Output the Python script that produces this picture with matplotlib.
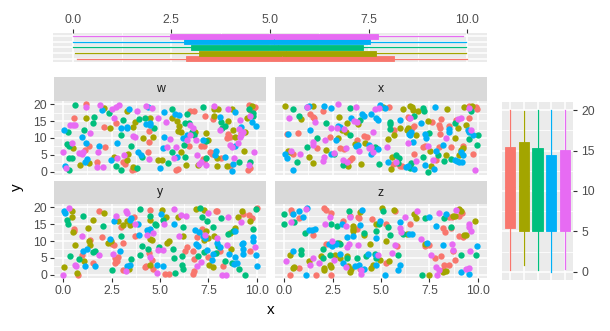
import matplotlib
matplotlib.use("Agg")
import matplotlib.pyplot as plt

plt.rcParams['font.family'] = ['Liberation Sans', 'DejaVu Sans']

# groups and their colours (ggplot hue palette)
groups = ["a", "b", "c", "d", "e"]
colors = {"a": "#F8766D", "b": "#A3A500", "c": "#00BF7D", "d": "#00B0F6", "e": "#E76BF3"}

facet_names = ["w", "x", "y", "z"]

# points: facet -> group -> [(x, y), ...]
facet_w = {
    "a": [(1.2,20),(6.55,18),(6.76,18),(9.6,19.8),(9.8,18.5),(9.9,19.3),(0.55,15.8),(2.7,14.4),(2.1,13.2),(1.12,6.4),(1.34,7.7),(1.72,2.8),(2.16,7.4),(3.1,2.8),(3.2,2.2),(3.53,0.5),(3.7,0.7),(4.4,5.9),(4.45,12.1),(4.45,8.9),(5.83,0.5),(5.95,0.7),(6.5,7.7),(7.1,7.7),(7.28,7.7),(7.2,3.8),(7.3,3.2),(7.6,5.9),(7.7,5.2),(8.53,11.1),(8.6,10.4),(8.45,9.9),(8.6,1.8),(9.57,0.5),(9.65,1.2),(7.76,5.4),(8.14,4.2),(7.33,16.6),(7.72,15.6),(9.17,11.4),(9.65,18.3),(9.74,18)],
    "b": [(2.1,18.8),(3.3,18),(7.8,18.5),(8.0,18.5),(8.7,18.5),(9.74,19.6),(1.17,16),(2.4,12.9),(3.6,13.2),(3.7,14.9),(4.5,16),(5.6,15.8),(5.9,15),(6.0,13.7),(5.95,12.1),(6.1,11.9),(0.52,6.9),(0.86,2),(1.34,2.5),(2.6,4.5),(3.36,5.1),(3.3,3.6),(4.1,9.9),(3.6,1.5),(4.65,10.4),(4.9,3.5),(5.1,3.5),(6.1,5.9),(6.35,2),(6.8,11.9),(7.38,11.4),(7.5,9.4),(6.98,2),(7.93,4.2),(7.96,1.8),(8.76,12.4),(8.9,10.4),(9.5,15.8),(9.34,6.1),(8.48,1.8),(7.8,16.6),(8.53,15.1),(9.4,11.9)],
    "c": [(0.6,19.7),(2.38,17.3),(5.6,18.5),(6.4,17),(7.2,19.3),(9.6,18.5),(1.6,16.3),(1.55,14.5),(3.0,10.9),(3.1,15.3),(3.9,15.5),(4.2,16),(4.7,12.9),(6.3,14.4),(6.5,14.4),(0.26,11.7),(1.09,12.4),(0.2,8.1),(0.3,7.7),(0.3,4),(0.43,4),(0.3,0.5),(2.72,1.8),(3.0,0.4),(3.5,7.7),(3.83,1),(4.05,4.5),(5.43,2.5),(5.6,5.9),(6.3,4.5),(6.24,7.9),(6.64,11.9),(6.76,10.9),(7.4,9.1),(7.4,4),(8.2,12.9),(8.36,13.7),(9.83,17.3),(9.1,2.8),(9.65,2.8),(8.14,14.9),(9.83,16.6)],
    "d": [(2.0,18.3),(3.4,18.5),(4.4,19.1),(5.2,17.6),(5.8,17),(6.0,16.8),(8.9,17.6),(3.0,12.9),(3.3,12.9),(3.3,13.4),(4.3,14.1),(4.5,14.4),(0.03,12.4),(0.95,10.2),(1.2,8.4),(1.24,3.8),(0.09,1.8),(1.1,3),(1.84,7.7),(2.45,3.5),(2.8,8.4),(3.85,5.9),(4.0,5),(4.5,13.9),(5.0,1),(5.14,6.9),(5.2,10.4),(5.86,4.5),(6.2,9.9),(6.4,10.9),(7.2,9.4),(7.84,5),(8.9,7.7),(9.74,14.9),(9.97,13.7),(8.76,2.2),(8.7,0.2),(8.36,4.5),(7.9,6.1),(8.1,16.3),(9.2,13.4)],
    "e": [(1.2,19.3),(1.9,19.8),(2.5,18.6),(2.7,19.3),(2.9,19.7),(3.8,18),(4.3,19.6),(4.6,18.8),(7.8,19.6),(8.5,18.5),(0.35,14),(0.5,13.9),(0.6,13.9),(2.6,16),(4.9,15.8),(5.3,14.9),(6.7,13.1),(1.38,11.4),(0.43,8.4),(0.0,5.7),(0.83,5.4),(0.95,5.2),(1.03,5.7),(0.14,1),(1.72,1.3),(2.03,1.3),(1.78,5.9),(2.76,4.2),(3.14,5),(3.7,10.4),(3.6,10.7),(4.45,3.8),(5.34,7.4),(5.5,9.7),(5.83,7.4),(5.7,4),(6.4,9.4),(6.55,10.9),(6.86,9.4),(6.9,5),(7.1,3),(7.0,2.2),(7.4,2),(8.1,12.4),(8.6,7.9),(8.7,7.4),(9.05,8.4),(9.14,10.4),(9.2,10.9),(9.14,15.3),(9.65,16.6),(9.86,5.9),(8.8,4.2),(9.6,2),(6.55,13.9),(9.1,12.7),(9.3,11.9)],
}

facet_x = {
    "a": [(2.0,18),(1.32,17),(1.46,16.3),(1.53,16),(2.35,10.4),(3.76,9.4),(4.1,10.7),(4.28,10.4),(0.12,11.1),(0.72,11.4),(1.7,7.1),(2.87,7.1),(3.08,6.7),(0.43,5.1),(3.42,3.5),(3.52,4),(5.65,12.4),(5.4,19.1),(6.39,16.3),(6.44,16),(7.65,14.9),(8.0,13.9),(8.1,15.6),(6.68,13.7),(6.6,12.9),(8.06,11.1),(8.88,15.3),(8.54,13.7),(9.54,19.6),(9.66,18.8),(9.9,19.3),(9.95,18.6),(9.57,15.8),(8.06,13.1),(9.23,7.7),(9.77,5.1),(7.99,7.4),(8.62,7.4),(7.17,7.4),(7.25,7.7),(7.85,3.5),(5.62,2.2),(5.76,2.5),(5.96,1.8),(6.1,1.8),(6.68,5.1)],
    "b": [(0.03,19.6),(0.89,15.5),(1.46,19.6),(2.84,16.3),(3.8,14.1),(3.25,14.4),(3.0,12.4),(3.18,11.7),(2.78,10.1),(2.15,6.4),(1.29,4.5),(0.2,6.1),(0.29,5.7),(1.5,2.5),(3.3,1.8),(3.99,2.2),(3.64,8.1),(4.16,8.4),(5.36,9.7),(5.65,10.9),(5.96,12.9),(5.1,19.3),(6.13,18.6),(6.48,19.6),(6.6,19.3),(6.65,18.3),(6.9,18),(8.4,18.6),(7.42,15),(6.39,12.9),(6.34,12.4),(6.82,10.9),(8.85,9.9),(8.97,12.9),(9.4,13.9),(9.7,19.6),(9.3,19.3),(9.14,6.4),(9.23,6.9),(9.05,5),(8.37,4.8),(7.51,6.1),(7.6,1.8),(5.58,4.5),(5.53,0.8),(6.48,1.8)],
    "c": [(0.43,18.6),(0.77,16.6),(2.18,14.4),(3.38,18.8),(3.9,15.3),(3.42,10.9),(1.7,9.9),(1.2,7.4),(2.58,5.1),(0.67,2.8),(3.04,2),(4.67,7.4),(4.76,7.1),(4.6,6.4),(4.9,2.2),(5.48,14.9),(5.48,14.1),(5.48,12.7),(7.17,18.8),(7.2,18),(6.68,16.6),(7.47,11.4),(8.8,14.4),(9.66,18),(9.54,9.7),(10.0,10.9),(9.95,7.9),(8.28,3.2),(8.62,3.8),(7.94,4.8),(7.17,4.5),(7.42,0),(5.79,5),(5.93,4),(5.88,2.5),(6.56,2.5),(6.5,1.2)],
    "d": [(1.2,19.2),(1.29,19.6),(2.04,19.6),(2.44,18.8),(1.32,12.4),(2.87,13.4),(2.8,13.7),(3.47,16),(4.0,17),(4.1,16.6),(2.66,9.4),(0.17,11.1),(2.44,5.1),(0.03,5.1),(0.15,4),(0.43,0.5),(3.7,7.7),(3.8,7.9),(4.4,7.9),(4.5,5.1),(4.85,6.7),(5.96,15.3),(4.97,19.8),(5.19,18.8),(4.72,15.8),(4.85,15.3),(4.5,17),(7.77,19.1),(7.08,14.4),(6.48,10.9),(6.56,11.7),(6.44,11.1),(7.25,11.1),(7.34,10.1),(6.65,8.7),(8.54,12.7),(8.5,11.9),(9.5,12.4),(9.57,11.7),(9.77,10.9),(9.14,5.7),(9.23,4.8),(8.8,3.5),(8.92,3.2),(9.05,2.8),(9.2,2.8),(8.2,7.9),(7.85,6.1),(7.25,2),(7.72,0.8),(5.36,2.8),(6.27,1.5),(6.39,1.8),(6.68,0.8)],
    "e": [(0.26,16),(1.15,19.3),(2.78,20),(1.58,14.7),(2.44,12.9),(2.7,13.1),(3.08,12.7),(3.7,19.3),(3.6,15),(3.76,14.9),(2.1,9.4),(1.5,8.9),(1.5,7.9),(2.56,5.4),(3.2,7.1),(0.33,6.1),(0.81,5.1),(1.98,3.2),(2.05,4.5),(3.04,3.5),(3.25,2.8),(3.87,6.1),(4.4,6.9),(4.6,5.9),(4.5,7.4),(5.3,7.4),(4.67,18.6),(4.9,18.8),(4.6,11.9),(6.5,16),(6.39,8.4),(8.37,9.9),(8.97,15.6),(9.14,15.8),(9.54,18.8),(9.66,12.4),(7.42,7.7),(7.68,3.5),(9.88,0.4),(5.79,2.8),(6.82,3.2)],
}

facet_y = {
    "a": [(0.55,13.7),(0.55,13.1),(0.78,0),(0.95,5.7),(1.38,10.4),(1.55,3.6),(1.86,18.8),(1.98,11.1),(2.5,9.1),(2.6,8.9),(2.67,4.8),(2.67,3.6),(3.0,14.1),(3.07,9.4),(2.84,5.1),(2.76,4),(3.07,1.3),(3.66,17),(3.7,11.4),(4.22,2.3),(4.3,2.6),(4.48,19.2),(4.45,6.4),(4.57,4.3),(4.66,1.6),(5.26,0.3),(5.48,0.3),(6.38,8.1),(6.29,6.9),(7.9,19),(7.97,18.8),(7.16,13.7),(6.72,6.9),(6.76,4.6),(6.69,0.3),(6.76,1),(7.5,5.1),(8.1,7.1),(8.28,2.6),(9.31,18),(9.62,17.8),(9.74,16.8),(10,19.8),(9.66,7.1),(6.9,11.1)],
    "b": [(0.43,19),(0.43,17),(0.48,12.7),(0.6,8.9),(0.03,2.3),(0.72,0.6),(1.07,4),(1.34,9.9),(1.4,8.9),(1.3,13.9),(1.52,16.2),(2.1,18.2),(2.33,9.4),(2.45,9.9),(2.84,16),(3.07,14.7),(3.41,1.6),(3.3,15.8),(3.45,14.7),(4.48,10.7),(4.57,10.4),(4.5,16.2),(4.5,3),(5.09,19.2),(5.31,17),(5.34,9.4),(5.48,9.9),(5.95,17),(6.21,11.4),(6.86,19.5),(7.28,19.2),(7.38,13.1),(7.5,10.9),(7.28,10.4),(7.76,2.3),(7.55,3),(7.79,11.4),(8.62,12.4),(9.05,17.2),(9.22,19),(8.66,7.7),(9.66,16),(8.88,14)],
    "c": [(0.21,16.2),(0.26,15),(0.34,5.4),(0.83,4.6),(1.03,17.5),(1.52,6.7),(1.64,7.1),(2.07,14.4),(3.0,11.4),(2.5,1.3),(3.52,4.6),(3.97,19.5),(4.05,8.4),(3.97,5.7),(4.48,17.5),(4.72,15),(4.8,14.7),(4.4,7.7),(4.97,8.1),(5.14,16.2),(5.69,7.7),(5.72,4.8),(5.78,0.6),(6.17,14.1),(6.12,5.4),(6.12,2.8),(6.21,1.6),(7.07,19.7),(7.16,17),(7.41,16),(7.76,14.1),(6.98,5.4),(7.28,6.7),(7.9,6.4),(8.02,8.4),(8.36,4),(8.71,3.6),(8.14,16.8),(9.4,0),(9.1,1.6),(9.97,19.5),(9.83,13.7),(8.53,12.1),(8.76,13.1)],
    "d": [(0.03,18.8),(0.09,18.2),(1.0,7.1),(1.12,2.6),(1.24,7.7),(1.64,2.6),(2.41,10.7),(2.6,15.8),(2.93,6.9),(3.45,3),(3.3,2.6),(3.45,16.2),(3.52,16.8),(3.88,15),(3.93,11.7),(4.31,13.4),(4.4,12.9),(4.48,13.7),(4.83,2.8),(5.17,2.6),(5.03,18),(5.72,15.2),(6.86,9.1),(6.98,8.4),(7.2,11.4),(7.33,10.9),(7.41,7.4),(7.76,6.1),(7.67,4.3),(7.97,9.4),(8.1,8.1),(8.59,6.1),(8.88,12.9),(8.88,5.1),(8.83,3.3),(8.97,3.6),(9.28,7.7),(9.28,6.1),(9.22,9.1),(9.31,9.4),(9.83,11.1),(9.79,10.1),(9.97,5.7),(10,2.6),(6.81,13.4),(7.03,12.7)],
    "e": [(0.31,19.8),(0,0),(0.6,3),(0.66,2.6),(0.95,11.4),(1.86,5.9),(2.72,17.5),(2.55,6.1),(3.24,1),(3.24,19),(3.3,18.2),(3.7,15.2),(4.31,11.7),(4.66,12.4),(4.48,5.1),(4.83,0.6),(4.9,7.4),(5.2,15),(5.14,7.4),(5.72,19.5),(6.07,17.8),(6.34,17.5),(6.0,11.4),(7.5,18.2),(6.9,2.6),(7.1,3.8),(7.33,11.9),(7.97,10.9),(8.45,8.9),(8.19,0),(8.41,0),(8.53,17.2),(9.17,15.5),(9.93,8.1)],
}

facet_z = {
    "a": [(0.33,19.2),(0.38,18.2),(0.77,16.8),(1.46,11.7),(0.29,0),(0.77,2),(1.63,0),(2.15,9.1),(2.04,19.8),(2.18,19.2),(2.44,18.2),(2.44,0),(3.04,15.8),(3.39,17.5),(3.77,13.7),(3.87,16.8),(3.81,17.2),(3.9,1.8),(4.55,16.5),(5.24,15.2),(5.82,8.4),(5.24,3.6),(5.7,18.8),(6.48,15.2),(7.47,8.7),(7.25,8.4),(7.77,4.8),(8.11,5.4),(8.23,1.3),(8.28,2.8),(8.54,3),(8.23,13.9),(8.33,12.7),(8.5,17),(8.68,17),(8.62,13.9),(8.71,7.1),(8.85,4.3),(9.05,17.5),(9.19,18.2),(9.05,11.4),(9.26,11.1)],
    "b": [(0.29,5.9),(0.43,2),(0.5,2.3),(1.29,4),(2.04,2),(2.04,1.3),(1.92,5.4),(2.61,5.9),(2.83,9.4),(2.35,3),(2.44,2.3),(3.56,14.4),(3.56,13.7),(3.56,13.1),(3.9,18.5),(4.1,11.7),(2.9,4.8),(3.25,5.4),(3.3,2.6),(3.42,0.8),(3.47,1.6),(4.42,9.1),(4.5,2),(4.76,15.2),(5.07,19.8),(5.28,9.9),(4.59,3),(4.97,4.3),(5.41,4),(5.65,19.2),(6.34,12.1),(6.73,18),(6.79,16.8),(7.3,9.1),(7.47,0),(8.23,0.8),(8.37,1),(8.74,17.5),(8.85,17.5),(9.02,19.5),(9.14,18.8),(9.88,15.8),(9.31,11.9),(9.4,11.7)],
    "c": [(0,18),(0,15.2),(0.5,15.5),(1.07,12.4),(0.84,7.4),(0.89,6.1),(2.01,7.7),(1.98,4.8),(2.39,15.2),(2.7,9.4),(2.9,9.1),(2.35,5.9),(2.7,14.4),(3.35,18.8),(4.1,12.4),(3.25,5),(3.77,4.8),(4.25,5.4),(4.72,12.9),(4.9,15),(5.1,18.8),(5.36,14.1),(5.45,11.7),(4.67,6.1),(4.72,5),(5.88,5.9),(6.13,12.1),(7.25,16.8),(7.13,0),(8.28,16.8),(8.62,14.1),(9.14,5.7),(9.91,5.7)],
    "d": [(0.43,18),(0.77,18.8),(0.95,17),(1.18,19.8),(1.29,13.4),(1.41,13.4),(1.58,13.7),(0.43,7.1),(1.12,0),(2.32,9.1),(2.49,8.4),(2.66,9.1),(2.87,6.1),(2.96,15.2),(3.22,11.1),(3.56,11.4),(3.9,14.7),(4.04,19.2),(3.04,3.6),(3.64,2.6),(3.87,3),(4.1,1.8),(4.33,6.1),(4.72,10.9),(4.93,15.8),(4.72,5.7),(4.76,2.8),(5.19,0),(5.96,15.5),(6.0,3),(5.88,1.3),(6.44,12.1),(6.62,12.1),(7.47,17.2),(7.85,14.4),(7.37,9.4),(8.2,8.9),(8.37,18),(9.14,0.8),(9.54,0.3),(9.95,8.4)],
    "e": [(0.33,15.5),(1.12,19.5),(0.09,4),(1.46,4.8),(1.32,2.8),(1.8,3.6),(2.35,17),(2.1,15.2),(2.49,10.1),(2.56,4.3),(3.18,14.4),(3.42,17.2),(3.35,9.1),(3.25,8.1),(3.18,2.3),(3.99,1.3),(3.99,0.3),(3.81,8.9),(4.85,5.9),(5.7,8.9),(5.58,6.4),(6.0,13.9),(6.05,12.7),(6.22,17),(6.84,18.8),(7.08,10.7),(8.02,18.2),(7.59,5.9),(7.82,2.3),(7.99,1.3),(7.89,0),(8.68,9.1),(8.71,7.4),(9.4,1.8),(9.54,2),(9.6,6.9),(8.88,19.2),(9.54,15.2),(9.57,14.1),(9.66,13.1)],
}

# marginal boxplot stats, per group (whisker low, q1, median, q3, whisker high)
x_box_lo = [0.10, 0.05, 0.00, 0.01, 0.00]
x_box_q1 = [2.86, 3.19, 3.00, 2.81, 2.46]
x_box_med = [5.30, 5.40, 5.20, 5.10, 5.00]
x_box_q3 = [8.15, 7.68, 7.36, 7.53, 7.73]
x_box_hi = [10.0, 9.97, 9.98, 9.98, 9.90]

y_box_lo = [0.2, 0.8, 0.2, 0.0, 0.3]
y_box_q1 = [5.4, 5.0, 5.1, 5.0, 5.0]
y_box_med = [10.5, 10.6, 10.1, 9.6, 10.2]
y_box_q3 = [15.45, 16.05, 15.3, 14.4, 15.1]
y_box_hi = [20.0, 19.9, 20.0, 20.0, 20.0]

xticks = [0, 2.5, 5, 7.5, 10]
xtick_labels = ["0.0", "2.5", "5.0", "7.5", "10.0"]
yticks = [0, 5, 10, 15, 20]
ytick_labels = ["0", "5", "10", "15", "20"]

W, H = 610, 331
fig = plt.figure(figsize=(W / 100, H / 100), dpi=100)

PANEL = "#EBEBEB"
STRIP = "#D9D9D9"
TICKC = "#333333"
LABC = "#4D4D4D"
FS = 8.8


def px_axes(x0, y0, x1, y1):
    return fig.add_axes([x0 / W, 1 - y1 / H, (x1 - x0) / W, (y1 - y0) / H])


def gg_panel(ax, xmaj, xmin, ymaj, ymin):
    ax.set_facecolor(PANEL)
    for s in ax.spines.values():
        s.set_visible(False)
    for v in xmin:
        ax.axvline(v, color="white", lw=0.55, zorder=0)
    for v in ymin:
        ax.axhline(v, color="white", lw=0.55, zorder=0)
    for v in xmaj:
        ax.axvline(v, color="white", lw=1.1, zorder=0)
    for v in ymaj:
        ax.axhline(v, color="white", lw=1.1, zorder=0)
    ax.tick_params(colors=TICKC, labelcolor=LABC, labelsize=FS, length=2.8, width=0.8, pad=2)


xminor = [1.25, 3.75, 6.25, 8.75]
yminor = [2.5, 7.5, 12.5, 17.5]

# facet panels: (name, data, panel rect, strip rect, show x labels, show y labels)
layout = [
    ("w", facet_w, (53.6, 101, 266.4, 175), (53.6, 77, 266.4, 101), False, True),
    ("x", facet_x, (274.6, 101, 487.4, 175), (274.6, 77, 487.4, 101), False, False),
    ("y", facet_y, (53.6, 204, 266.4, 278), (53.6, 181, 266.4, 204), True, True),
    ("z", facet_z, (274.6, 204, 487.4, 278), (274.6, 181, 487.4, 204), True, False),
]

for name, data, rect, srect, showx, showy in layout:
    ax = px_axes(*rect)
    gg_panel(ax, xticks, xminor, yticks, yminor)
    for g in groups:
        pts = data[g]
        ax.scatter([p[0] for p in pts], [p[1] for p in pts], s=21, color=colors[g],
                   linewidths=0, zorder=3)
    ax.set_xlim(-0.5, 10.5)
    ax.set_ylim(-1, 21)
    ax.set_xticks(xticks)
    ax.set_yticks(yticks)
    if showx:
        ax.set_xticklabels(xtick_labels)
    else:
        ax.tick_params(axis="x", length=0, labelbottom=False)
    if showy:
        ax.set_yticklabels(ytick_labels)
    else:
        ax.tick_params(axis="y", length=0, labelleft=False)

    sax = px_axes(*srect)
    sax.set_facecolor(STRIP)
    for s in sax.spines.values():
        s.set_visible(False)
    sax.set_xticks([])
    sax.set_yticks([])
    sax.text(0.5, 0.5, name, ha="center", va="center", fontsize=FS, color="#1A1A1A",
             transform=sax.transAxes)


def box_stats(lo, q1, med, q3, hi):
    return [dict(whislo=a, q1=b, med=c, q3=d, whishi=e, fliers=[])
            for a, b, c, d, e in zip(lo, q1, med, q3, hi)]


def draw_boxes(ax, stats, vert, width):
    pos = list(range(1, len(groups) + 1))
    for i, g in enumerate(groups):
        c = colors[g]
        ax.bxp([stats[i]], positions=[pos[i]], widths=width, vert=vert,
               patch_artist=True, showcaps=False, showfliers=False,
               boxprops=dict(facecolor=c, edgecolor=c, linewidth=0.6),
               whiskerprops=dict(color=c, linewidth=0.9),
               medianprops=dict(color=c, linewidth=0.6))


# top marginal: x by group
tax = px_axes(53, 33, 487, 62)
gg_panel(tax, xticks, xminor, [1, 2, 3, 4, 5], [])
draw_boxes(tax, box_stats(x_box_lo, x_box_q1, x_box_med, x_box_q3, x_box_hi), False, 0.9)
tax.set_xlim(-0.5, 10.5)
tax.set_ylim(0.4, 5.6)
tax.set_xticks(xticks)
tax.set_xticklabels(xtick_labels)
tax.xaxis.tick_top()
tax.set_yticks([])
tax.tick_params(axis="x", top=True, bottom=False, labeltop=True, labelbottom=False)

# right marginal: y by group
rax = px_axes(502, 102, 573, 280)
gg_panel(rax, [1, 2, 3, 4, 5], [], yticks, yminor)
draw_boxes(rax, box_stats(y_box_lo, y_box_q1, y_box_med, y_box_q3, y_box_hi), True, 0.75)
rax.set_xlim(0.4, 5.6)
rax.set_ylim(-1, 21)
rax.set_xticks([])
rax.set_yticks(yticks)
rax.set_yticklabels(ytick_labels)
rax.yaxis.tick_right()
rax.tick_params(axis="y", right=True, left=False, labelright=True, labelleft=False, pad=3)

# axis titles
fig.text(270.5 / W, 1 - 310 / H, "x", ha="center", va="center", fontsize=11, color="black")
fig.text(17 / W, 1 - 187 / H, "y", ha="center", va="center", fontsize=11, rotation=90,
         color="black")

fig.savefig("out.png", dpi=100, facecolor="white")
